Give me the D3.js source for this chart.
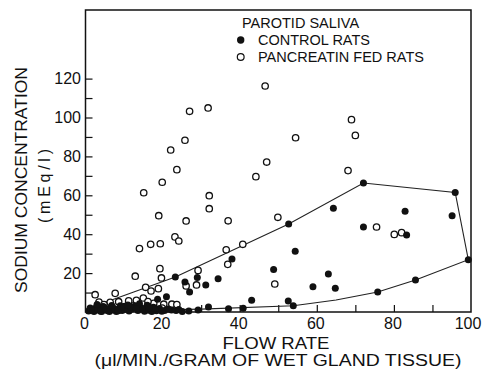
<!DOCTYPE html>
<html>
<head>
<meta charset="utf-8">
<script src="https://cdn.jsdelivr.net/npm/d3@7"></script>
<style>
  html, body { margin: 0; padding: 0; background: #fff; }
  svg text { font-family: "Liberation Sans", Arial, sans-serif; fill: #111; }
</style>
</head>
<body>
<svg id="chart" width="484" height="374"></svg>
<script>
// ---- data ----
const controlX = [72.1,95.9,64.3,82.9,95.1,52.7,72.1,83.3,54.4,99.3,38.0,48.8,63.0,23.3,29.0,34.4,25.8,31.2,59.0,64.8,27.0,85.6,75.8,21.0,18.7,43.1,52.6,53.9,31.9,37.1,40.9,29.2,26.8,22.3,25.1,
  0.8,1.5,2.2,2.8,3.5,4.2,5.0,5.8,6.5,7.2,8.0,8.8,9.5,10.5,11.3,12.0,12.8,13.6,14.5,15.3,16.0,16.8,17.6,18.4,19.2,20.5,14.0,9.0,4.5,
  1.2,2.0,3.2,3.9,4.8,5.4,6.2,7.0,7.7,8.5,9.9,10.9,11.7,13.2,14.9,16.4,17.2,18.0,19.8,21.5,23.5,24.2,6.8,11.0,3.0,16.5];
const controlY = [66.3,61.5,53.3,51.8,49.5,45.2,43.7,39.6,31.2,26.9,27.2,21.9,19.5,18.0,17.8,17.1,15.4,13.9,13.0,12.2,10.3,16.5,10.3,7.9,6.5,6.0,5.7,3.2,2.6,1.7,1.9,1.0,0.5,1.0,0.3,
  0.5,1.5,0.3,2.5,1.0,0.2,1.8,0.6,2.2,1.0,0.3,1.8,0.8,2.0,0.5,1.5,3.0,0.8,2.0,0.4,3.5,1.2,2.5,0.6,1.8,0.8,4.3,3.2,2.8,
  2.0,0.8,1.2,0.4,2.6,1.0,0.3,2.6,1.4,0.7,2.5,1.2,2.6,1.8,1.6,0.9,0.3,1.9,0.4,1.6,0.8,1.3,3.4,3.6,3.8,2.2];

const pancreatinX = [46.6,27.0,31.8,69.0,70.0,54.5,25.8,22.1,47.0,23.7,68.1,44.2,19.9,15.1,32.1,32.1,49.9,19.0,26.1,37.0,75.5,80.1,82.0,23.2,24.2,14.0,16.9,19.4,36.5,40.8,36.9,19.3,19.7,29.2,12.9,49.1,28.8,15.6,18.9,17.0,26.1,
  2.5,7.7,15.0,3.5,6.4,8.6,11.2,13.2,17.7,20.3,22.4,23.7,9.6,19.9,12.5,4.8,10.2,16.2];
const pancreatinY = [116.2,103.2,104.9,98.9,90.8,89.6,88.3,83.3,77.1,73.2,72.7,69.6,66.7,61.3,59.8,53.1,48.7,49.5,46.8,46.9,43.7,39.9,40.8,38.6,36.5,32.6,34.8,35.1,32.0,34.8,24.5,22.3,17.5,21.4,18.4,14.4,13.9,12.7,12.0,10.8,13.4,
  8.9,9.6,7.2,5.1,5.0,5.3,5.7,6.0,4.5,4.0,4.0,3.8,1.5,2.0,3.2,3.8,2.8,5.4];

// boundary drawn around the control points
const boundaryX = [3.0,23.3,52.7,72.1,95.9,99.3,85.6,75.8,65.0,53.9,30.0,15.0,1.0];
const boundaryY = [3.5,18.0,45.2,66.3,61.5,26.9,16.5,10.3,6.2,3.2,1.5,0.9,0.6];

const yTickLabels = [20,40,60,80,100,120];
const xTickLabels = [0,20,40,60,80,100];
const yMinorTicks = [10,20,30,40,50,60,70,80,90,100,110,120];
const xMinorTicks = [10,20,30,40,50,60,70,80,90];

const legendTitle = "PAROTID SALIVA";
const legendLabels = ["CONTROL RATS", "PANCREATIN FED RATS"];
const xTitle1 = "FLOW RATE";
const xTitle2 = "(\u03BCl/MIN./GRAM OF WET GLAND TISSUE)";
const yTitle1 = "SODIUM CONCENTRATION";
const yTitle2 = "(mEq/l)";

// ---- drawing ----
const svg = d3.select("#chart");
const pLeft = 85.5, pRight = 471, pBottom = 312, pTop = 10;
const x = d3.scaleLinear().domain([0,100]).range([pLeft, pRight]);
const y = d3.scaleLinear().domain([0,120]).range([pBottom, pBottom - 120*1.945]);

// frame
svg.append("rect").attr("x", pLeft).attr("y", pTop)
  .attr("width", pRight-pLeft).attr("height", pBottom-pTop)
  .attr("fill","none").attr("stroke","#111").attr("stroke-width",1.5);

// y ticks (inside)
const yAxis = d3.axisRight(y).tickValues(yMinorTicks).tickSize(7).tickFormat("");
svg.append("g").attr("transform",`translate(${pLeft},0)`).call(yAxis)
  .call(g => g.select(".domain").remove())
  .call(g => g.selectAll("line").attr("stroke","#111").attr("stroke-width",1.2));
svg.append("g").selectAll("text").data(yTickLabels).join("text")
  .attr("x", 81).attr("y", d => y(d) + 5.8)
  .attr("text-anchor","end").attr("font-size",16).text(d => d);

// x ticks (inside, up)
const xAxis = d3.axisTop(x).tickValues(xMinorTicks).tickSize(7).tickFormat("");
svg.append("g").attr("transform",`translate(0,${pBottom})`).call(xAxis)
  .call(g => g.select(".domain").remove())
  .call(g => g.selectAll("line").attr("stroke","#111").attr("stroke-width",1.2));
svg.append("g").selectAll("text").data(xTickLabels).join("text")
  .attr("x", d => x(d) - (d===100 ? 3 : 1)).attr("y", 329)
  .attr("text-anchor","middle").attr("font-size",16).text(d => d);

// boundary line
const bpts = boundaryX.map((d,i) => [d, boundaryY[i]]);
svg.append("path").datum(bpts)
  .attr("d", d3.line().x(d => x(d[0])).y(d => y(d[1])))
  .attr("fill","none").attr("stroke","#222").attr("stroke-width",1.1);

// pancreatin (open)
svg.append("g").selectAll("circle").data(pancreatinX.map((d,i)=>[d,pancreatinY[i]])).join("circle")
  .attr("cx", d => x(d[0])).attr("cy", d => y(d[1])).attr("r", 3.2)
  .attr("fill","#fff").attr("stroke","#111").attr("stroke-width",1.3);

// control (filled)
svg.append("g").selectAll("circle").data(controlX.map((d,i)=>[d,controlY[i]])).join("circle")
  .attr("cx", d => x(d[0])).attr("cy", d => y(d[1])).attr("r", 3.5)
  .attr("fill","#111");

// legend
svg.append("text").attr("x",242).attr("y",28).attr("font-size",14.5).text(legendTitle);
svg.append("circle").attr("cx",240.7).attr("cy",40).attr("r",3.7).attr("fill","#111");
svg.append("text").attr("x",258).attr("y",45).attr("font-size",14.5).text(legendLabels[0]);
svg.append("circle").attr("cx",240.7).attr("cy",57).attr("r",3.4).attr("fill","#fff").attr("stroke","#111").attr("stroke-width",1.2);
svg.append("text").attr("x",258).attr("y",62).attr("font-size",14.5).text(legendLabels[1]);

// axis titles
svg.append("text").attr("x",276).attr("y",349).attr("text-anchor","middle")
  .attr("font-size",16).attr("textLength",107).attr("lengthAdjust","spacingAndGlyphs").text(xTitle1);
svg.append("text").attr("x",278).attr("y",366).attr("text-anchor","middle")
  .attr("font-size",16).attr("textLength",367).attr("lengthAdjust","spacingAndGlyphs").text(xTitle2);

svg.append("text").attr("transform","translate(26.5,180) rotate(-90)").attr("text-anchor","middle")
  .attr("font-size",16).attr("textLength",226).attr("lengthAdjust","spacingAndGlyphs").text(yTitle1);
svg.append("text").attr("transform","translate(49.5,186) rotate(-90)").attr("text-anchor","middle")
  .attr("font-size",16).attr("textLength",74).attr("lengthAdjust","spacing").text(yTitle2);
</script>
</body>
</html>
